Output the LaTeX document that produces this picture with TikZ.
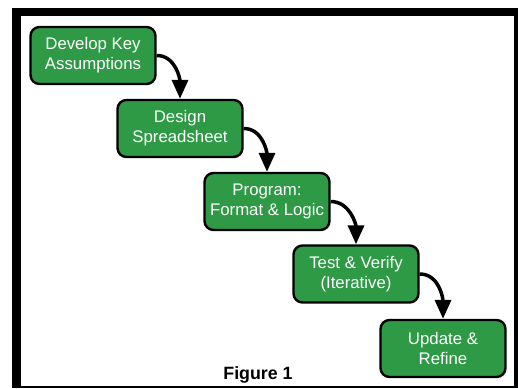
\documentclass[tikz,border=0pt]{standalone}
\usepackage{fontspec}
\setmainfont{Liberation Sans}
\usetikzlibrary{arrows.meta}
\definecolor{boxgreen}{HTML}{2E9A46}
\tikzset{
  stepbox/.style={draw=black, line width=2.4pt, fill=boxgreen, rounded corners=9pt,
    minimum width=125pt, minimum height=57pt, text=white, align=center,
    font=\fontsize{16.8}{20}\selectfont, inner sep=0pt},
  flow/.style={line width=3.5pt, -{Triangle[length=19pt,width=16pt]}}
}
\begin{document}
\begin{tikzpicture}[x=1pt,y=-1pt]
\useasboundingbox (0,0) rectangle (518,388);
\fill[black] (12,8) rectangle (518,388);
\fill[white] (21,16) rectangle (513.5,386.3);
\node[stepbox] (b1) at (93,55.5) {Develop Key\\Assumptions};
\node[stepbox] (b2) at (180,128.5) {Design\\Spreadsheet};
\node[stepbox] (b3) at (267,201.5) {Program:\\Format \& Logic};
\node[stepbox] (b4) at (356,274) {Test \& Verify\\(Iterative)};
\node[stepbox] (b5) at (443,348.5) {Update \&\\Refine};
\node[font=\bfseries\fontsize{17.8}{20}\selectfont] (fig) at (258,375) {Figure 1};
\draw[flow] (b1.east) to[out=0,in=90] (b2.north);
\draw[flow] (b2.east) to[out=0,in=90] (b3.north);
\draw[flow] (b3.east) to[out=0,in=90] (b4.north);
\draw[flow] (b4.east) to[out=0,in=90] (b5.north);
\end{tikzpicture}
\end{document}
